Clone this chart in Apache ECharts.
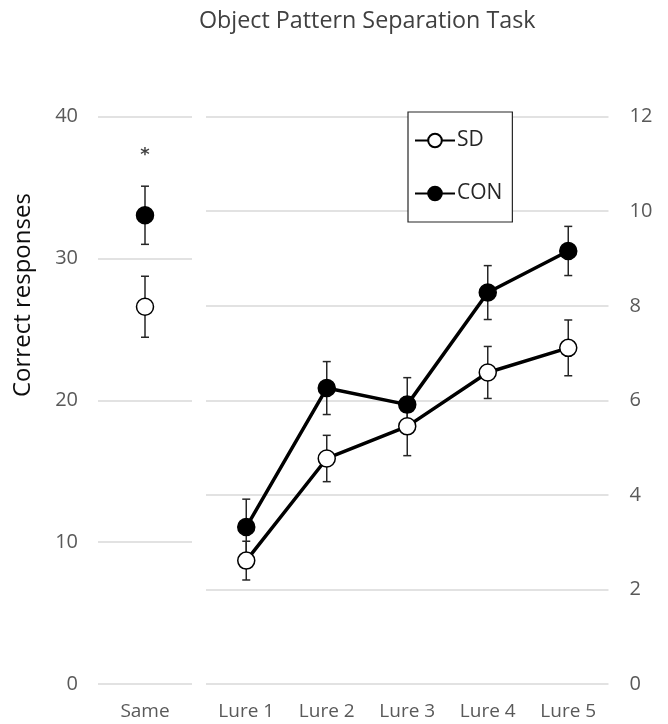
<!DOCTYPE html>
<html><head><meta charset="utf-8">
<script src="https://cdn.jsdelivr.net/npm/echarts@6/dist/echarts.min.js"></script>
<style>html,body{margin:0;padding:0;background:#fff}#c{width:668px;height:724px}</style>
</head><body><div id="c"></div>
<script>
const sameCats = ['Same'];
const lureCats = ['Lure 1', 'Lure 2', 'Lure 3', 'Lure 4', 'Lure 5'];
const leftTicks = [0, 10, 20, 30, 40];
const rightTicks = [0, 2, 4, 6, 8, 10, 12];
const sdSame = [26.6];
const sdSameErr = [2.15];
const conSame = [33.05];
const conSameErr = [2.05];
const sdLure = [2.61, 4.77, 5.45, 6.59, 7.11];
const sdLureErr = [0.41, 0.49, 0.62, 0.55, 0.59];
const conLure = [3.32, 6.26, 5.91, 8.28, 9.16];
const conLureErr = [0.59, 0.56, 0.57, 0.57, 0.52];
const sigMark = [37.3];

const FONT = 'Open Sans';
function errData(vals, errs) { return vals.map((v, i) => [i, v - errs[i], v + errs[i]]); }
function errSeries(xi, yi, data) {
  return {
    type: 'custom', xAxisIndex: xi, yAxisIndex: yi, z: 1, silent: true,
    encode: { x: 0, y: [1, 2] },
    data: data,
    renderItem: function (params, api) {
      const x = api.value(0);
      const lo = api.coord([x, api.value(1)]);
      const hi = api.coord([x, api.value(2)]);
      const s = { stroke: '#262626', lineWidth: 1.5 };
      const w = 4;
      return { type: 'group', children: [
        { type: 'line', shape: { x1: lo[0], y1: lo[1], x2: hi[0], y2: hi[1] }, style: s },
        { type: 'line', shape: { x1: lo[0] - w, y1: lo[1], x2: lo[0] + w, y2: lo[1] }, style: s },
        { type: 'line', shape: { x1: hi[0] - w, y1: hi[1], x2: hi[0] + w, y2: hi[1] }, style: s }
      ]};
    }
  };
}
const chart = echarts.init(document.getElementById('c'));
const splitLine = { show: true, lineStyle: { color: '#d9d9d9', width: 1.5 } };
const catLabel = { fontFamily: FONT, fontSize: 19, color: '#595959', margin: 18 };
const valLabel = { fontFamily: FONT, fontSize: 20, color: '#595959' };
chart.setOption({
  animation: false,
  grid: [
    { left: 98, width: 94, top: 116.7, bottom: 40 },
    { left: 206, width: 402.5, top: 116.7, bottom: 40 }
  ],
  xAxis: [
    { type: 'category', gridIndex: 0, data: sameCats, axisLine: { show: false }, axisTick: { show: false }, axisLabel: catLabel },
    { type: 'category', gridIndex: 1, data: lureCats, axisLine: { show: false }, axisTick: { show: false }, axisLabel: catLabel }
  ],
  yAxis: [
    { type: 'value', gridIndex: 0, min: leftTicks[0], max: leftTicks[leftTicks.length - 1], interval: 10,
      axisLine: { show: false }, axisTick: { show: false }, splitLine: splitLine,
      axisLabel: Object.assign({ margin: 20 }, valLabel) },
    { type: 'value', gridIndex: 1, position: 'right', min: rightTicks[0], max: rightTicks[rightTicks.length - 1], interval: 2,
      axisLine: { show: false }, axisTick: { show: false }, splitLine: splitLine,
      axisLabel: Object.assign({ margin: 21 }, valLabel) }
  ],
  legend: {
    orient: 'vertical', left: 408, top: 112,
    data: ['SD', 'CON'],
    itemWidth: 40, itemHeight: 17, itemGap: 32,
    padding: [18, 10, 18, 6],
    borderColor: '#262626', borderWidth: 1.2, backgroundColor: '#fff',
    textStyle: { fontFamily: FONT, fontSize: 21, color: '#262626', padding: [0, 0, 0, -3] }
  },
  graphic: [
    { type: 'text', left: 199, top: 10, style: { text: 'Object Pattern Separation Task', font: '23.3px "Open Sans"', fill: '#404040' } },
    { type: 'text', rotation: Math.PI / 2, x: 11, y: 397, style: { text: 'Correct responses', font: '24px "Open Sans"', fill: '#0d0d0d' } }
  ],
  series: [
    { name: 'SD', type: 'line', xAxisIndex: 1, yAxisIndex: 1, z: 3, data: sdLure,
      symbol: 'circle', symbolSize: 17, lineStyle: { color: '#000', width: 3.5 },
      itemStyle: { color: '#fff', borderColor: '#000', borderWidth: 1.5 } },
    { name: 'CON', type: 'line', xAxisIndex: 1, yAxisIndex: 1, z: 3, data: conLure,
      symbol: 'circle', symbolSize: 17, lineStyle: { color: '#000', width: 3.5 },
      itemStyle: { color: '#000', borderColor: '#000', borderWidth: 1.5 } },
    { name: 'SD same', type: 'scatter', xAxisIndex: 0, yAxisIndex: 0, z: 3, data: sdSame,
      symbol: 'circle', symbolSize: 17, itemStyle: { color: '#fff', borderColor: '#000', borderWidth: 1.5, opacity: 1 } },
    { name: 'CON same', type: 'scatter', xAxisIndex: 0, yAxisIndex: 0, z: 3, data: conSame,
      symbol: 'circle', symbolSize: 17, itemStyle: { color: '#000', borderColor: '#000', borderWidth: 1.5, opacity: 1 } },
    { name: 'sig', type: 'scatter', xAxisIndex: 0, yAxisIndex: 0, z: 4, data: sigMark,
      symbol: 'circle', symbolSize: 2, itemStyle: { color: 'rgba(0,0,0,0)' },
      label: { show: true, position: 'inside', formatter: '*', fontFamily: 'DejaVu Sans', fontWeight: 'bold', fontSize: 18, color: '#111' } },
    errSeries(1, 1, errData(sdLure, sdLureErr)),
    errSeries(1, 1, errData(conLure, conLureErr)),
    errSeries(0, 0, errData(sdSame, sdSameErr)),
    errSeries(0, 0, errData(conSame, conSameErr))
  ]
});
</script></body></html>
